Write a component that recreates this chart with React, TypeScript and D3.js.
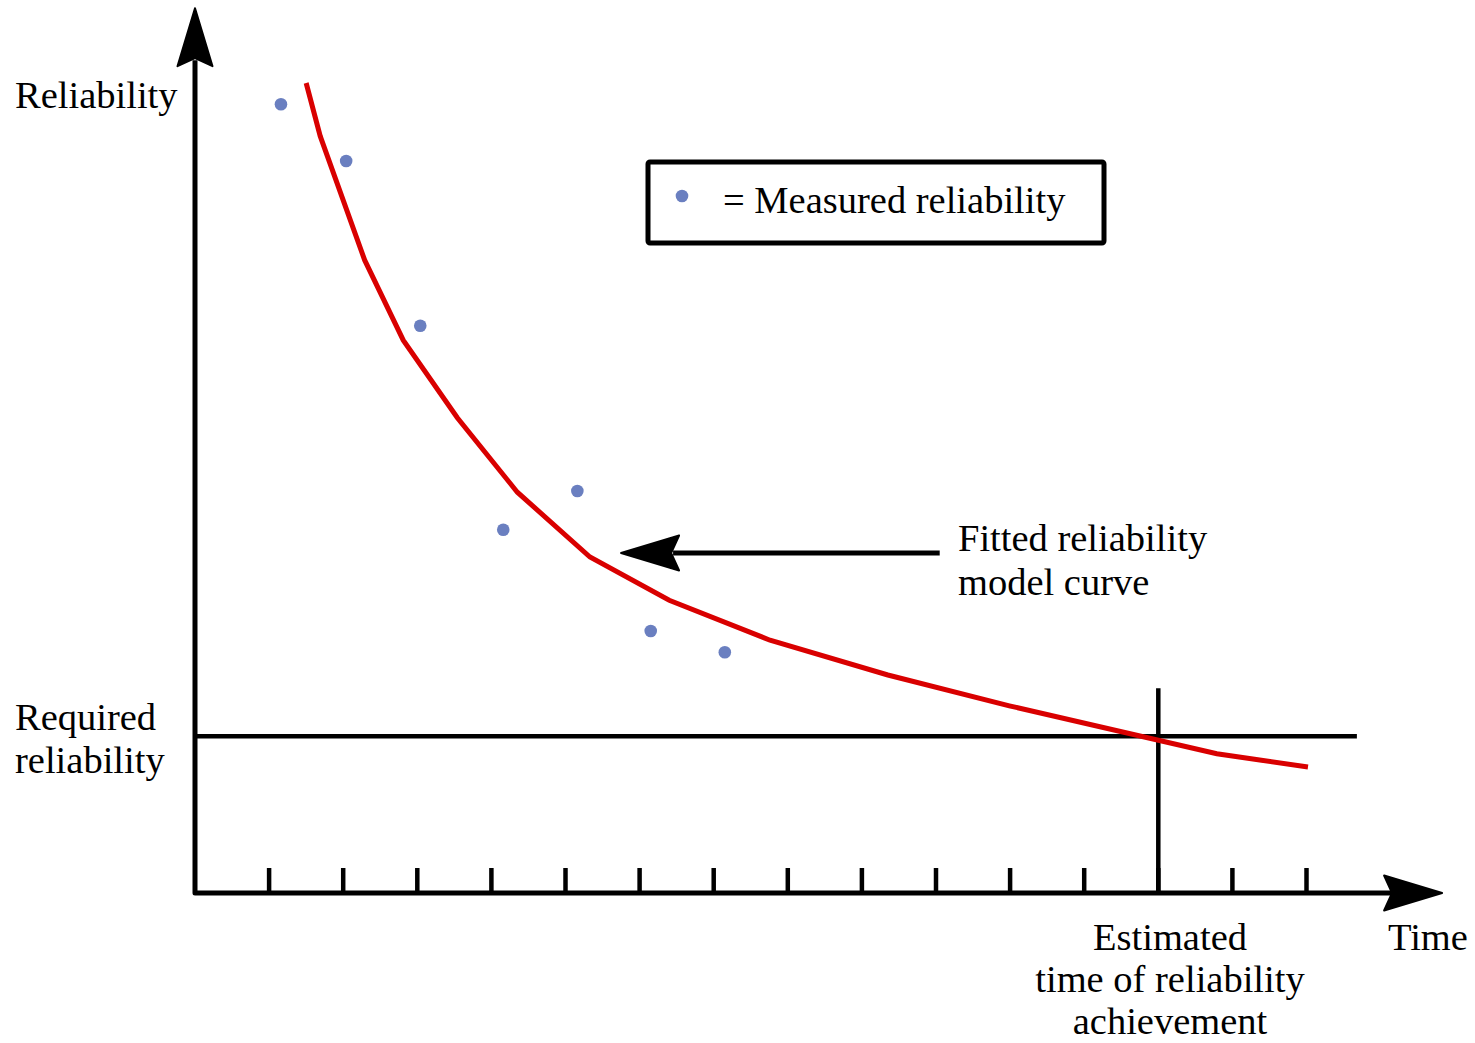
import { useRef, useEffect } from 'react';
import * as d3 from 'd3';

// measured reliability points (time units = tick spacing)
const measuredT = [1.16, 2.04, 3.04, 4.16, 5.16, 6.15, 7.15];
const measuredR = [98.6, 91.5, 70.9, 45.4, 50.25, 32.75, 30.1];

// fitted model curve
const curveT = [1.5, 1.69, 2.29, 2.81, 3.54, 4.35, 5.33, 6.4, 7.76, 9.35, 10.99, 13.79, 15.02];
const curveR = [101.25, 94.6, 79.1, 69.1, 59.4, 50.1, 42, 36.6, 31.6, 27.25, 23.4, 17.4, 15.75];

const tickT = [1, 2, 3, 4, 5, 6, 7, 8, 9, 10, 11, 12, 13, 14, 15];

const requiredR = 19.6;
const requiredEndT = 15.68;
const estimatedT = 13;
const estimatedTopR = 25.6;
const xAxisEndT = 16.83;
const yAxisEndR = 110.6;

const pointerFromT = 10.05;
const pointerToT = 5.75;
const pointerR = 42.5;

const W = 1475;
const H = 1043;
const FONT = '"Liberation Serif", "Times New Roman", serif';
const RED = '#d90000';
const BLUE = '#6a7fc0';

export default function App() {
  const svgRef = useRef<SVGSVGElement>(null);

  useEffect(() => {
    const svg = d3.select(svgRef.current);
    svg.selectAll('*').remove();

    const x = d3.scaleLinear().domain([0, 15]).range([195, 1306.5]);
    const y = d3.scaleLinear().domain([0, 100]).range([893, 93]);

    // arrowhead shape, tip at origin, pointing +x
    const head = 'M0,0 L-58,-17.5 L-50,0 L-58,17.5 Z';
    const arrowHead = (tx: number, ty: number, angle: number) =>
      svg.append('path')
        .attr('d', head)
        .attr('transform', `translate(${tx},${ty}) rotate(${angle})`)
        .attr('fill', '#000')
        .attr('stroke', '#000')
        .attr('stroke-width', 2)
        .attr('stroke-linejoin', 'round');

    // required reliability line + estimated time line
    svg.append('line')
      .attr('x1', x(0)).attr('x2', x(requiredEndT))
      .attr('y1', y(requiredR)).attr('y2', y(requiredR))
      .attr('stroke', '#000').attr('stroke-width', 4.5);
    svg.append('line')
      .attr('x1', x(estimatedT)).attr('x2', x(estimatedT))
      .attr('y1', y(estimatedTopR)).attr('y2', y(0))
      .attr('stroke', '#000').attr('stroke-width', 4.5);

    // ticks
    svg.selectAll('line.tick')
      .data(tickT)
      .join('line')
      .attr('class', 'tick')
      .attr('x1', d => x(d)).attr('x2', d => x(d))
      .attr('y1', y(0) - 25).attr('y2', y(0))
      .attr('stroke', '#000').attr('stroke-width', 4.5);

    // axes
    svg.append('path')
      .attr('d', `M${x(0)},${y(yAxisEndR) + 52} L${x(0)},${y(0)} L${x(xAxisEndT) - 50},${y(0)}`)
      .attr('fill', 'none')
      .attr('stroke', '#000')
      .attr('stroke-width', 5)
      .attr('stroke-linejoin', 'round');
    arrowHead(x(0), y(yAxisEndR), -90);
    arrowHead(x(xAxisEndT), y(0), 0);

    // fitted curve
    const line = d3.line<number>()
      .x(i => x(curveT[i]))
      .y(i => y(curveR[i]));
    svg.append('path')
      .attr('d', line(d3.range(curveT.length)))
      .attr('fill', 'none')
      .attr('stroke', RED)
      .attr('stroke-width', 5);

    // measured points
    svg.selectAll('circle.pt')
      .data(d3.range(measuredT.length))
      .join('circle')
      .attr('class', 'pt')
      .attr('cx', i => x(measuredT[i]))
      .attr('cy', i => y(measuredR[i]))
      .attr('r', 6.3)
      .attr('fill', BLUE);

    // pointer arrow to the curve
    svg.append('line')
      .attr('x1', x(pointerFromT)).attr('x2', x(pointerToT) + 52)
      .attr('y1', y(pointerR)).attr('y2', y(pointerR))
      .attr('stroke', '#000').attr('stroke-width', 5);
    arrowHead(x(pointerToT), y(pointerR), 180);

    // legend
    svg.append('rect')
      .attr('x', 648).attr('y', 162)
      .attr('width', 456).attr('height', 81)
      .attr('rx', 2)
      .attr('fill', 'none')
      .attr('stroke', '#000')
      .attr('stroke-width', 5);
    svg.append('circle')
      .attr('cx', 682).attr('cy', 196).attr('r', 6.3).attr('fill', BLUE);

    const text = (tx: number, ty: number, s: string, anchor = 'start') =>
      svg.append('text')
        .attr('x', tx).attr('y', ty)
        .attr('text-anchor', anchor)
        .attr('font-family', FONT)
        .attr('font-size', 38.5)
        .attr('fill', '#000')
        .text(s);

    text(723, 213, '= Measured reliability');
    text(15, 108, 'Reliability');
    text(15, 730, 'Required');
    text(15, 773, 'reliability');
    text(958, 551, 'Fitted reliability');
    text(958, 595, 'model curve');
    text(1170, 950, 'Estimated', 'middle');
    text(1170, 992, 'time of reliability', 'middle');
    text(1170, 1034, 'achievement', 'middle');
    text(1388, 950, 'Time');
  }, []);

  return (
    <svg
      ref={svgRef}
      width={W}
      height={H}
      style={{ position: 'absolute', left: 0, top: 0, background: '#fff' }}
    />
  );
}
